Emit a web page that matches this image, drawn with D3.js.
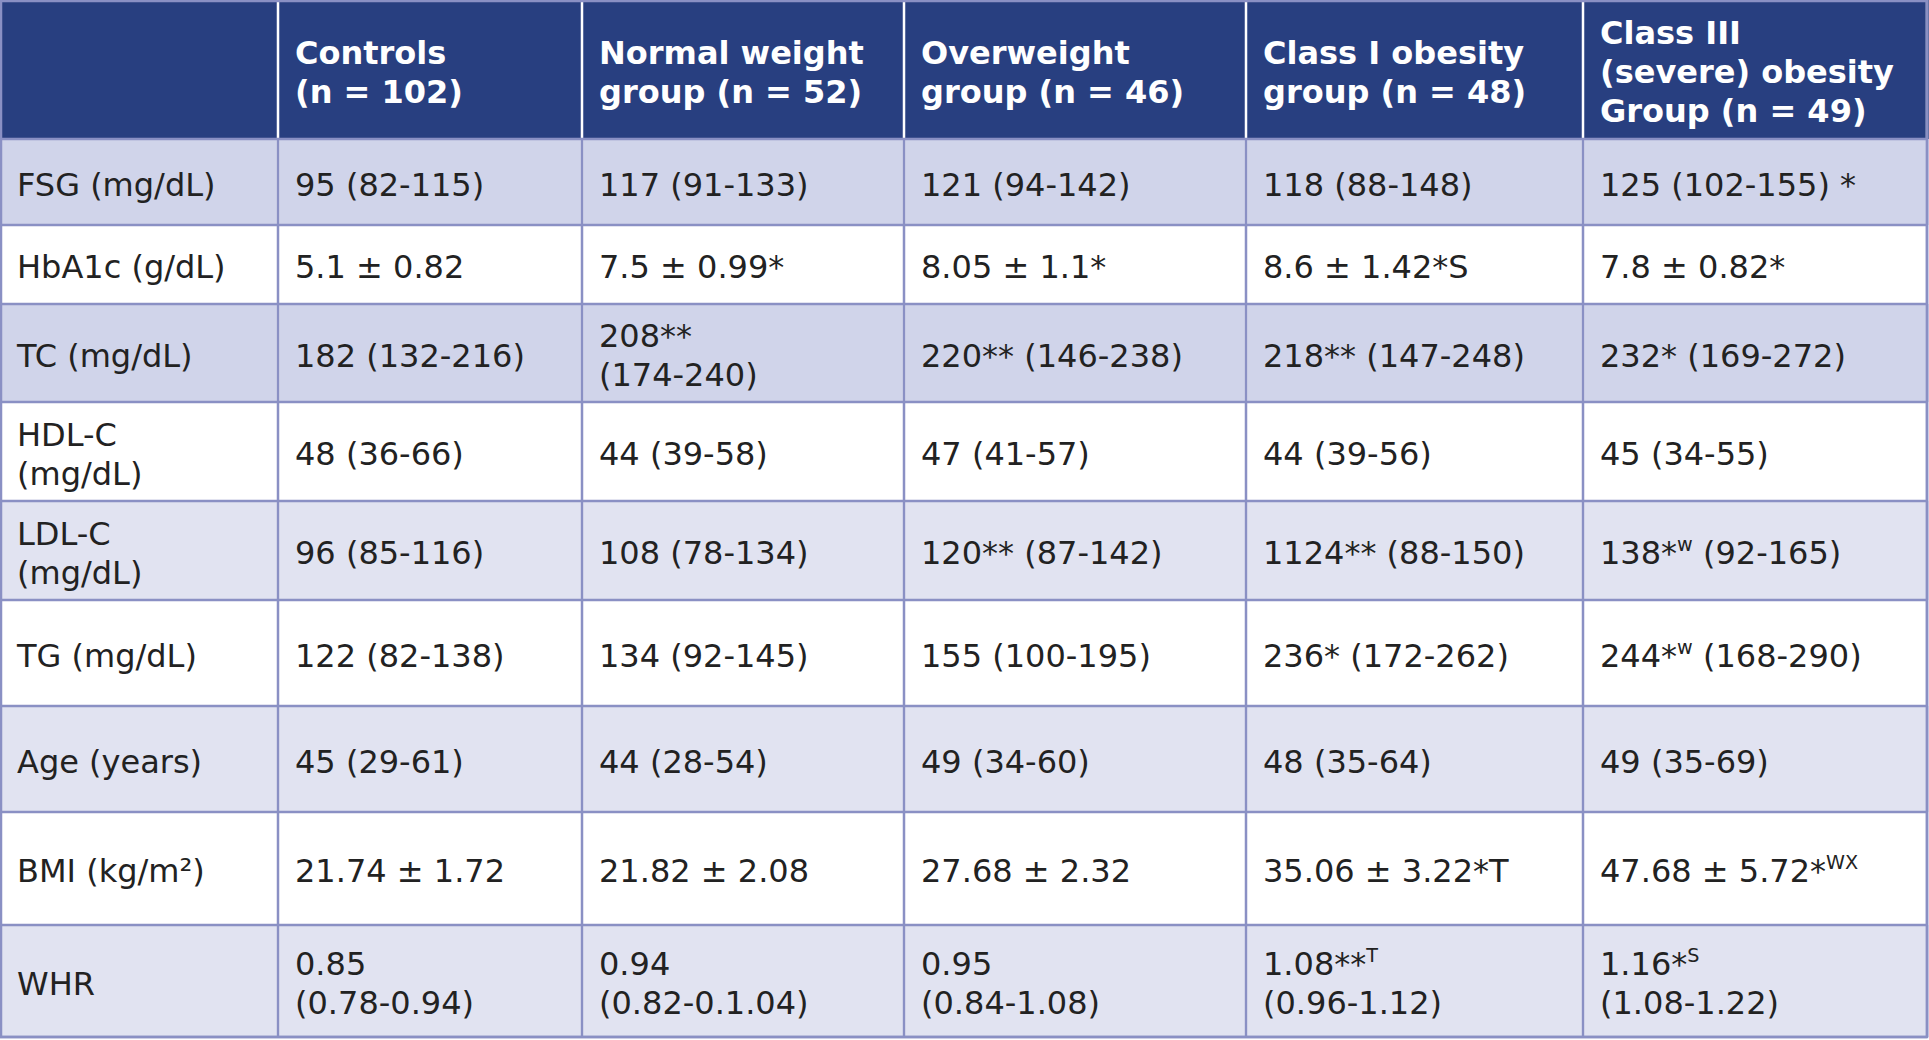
<!DOCTYPE html>
<html><head><meta charset="utf-8">
<script src="https://cdn.jsdelivr.net/npm/d3@7"></script>
<style>body{margin:0;background:#fff}</style></head>
<body><svg id="c" width="1929" height="1040"></svg>
<script>
// Data ("\n" = line break, {x} = superscript)
const headers = ["", "Controls\n(n = 102)", "Normal weight\ngroup (n = 52)", "Overweight\ngroup (n = 46)", "Class I obesity\ngroup (n = 48)", "Class III\n(severe) obesity\nGroup (n = 49)"];
const rowLabels = ["FSG (mg/dL)", "HbA1c (g/dL)", "TC (mg/dL)", "HDL-C\n(mg/dL)", "LDL-C\n(mg/dL)", "TG (mg/dL)", "Age (years)", "BMI (kg/m²)", "WHR"];
const controls = ["95 (82-115)", "5.1 ± 0.82", "182 (132-216)", "48 (36-66)", "96 (85-116)", "122 (82-138)", "45 (29-61)", "21.74 ± 1.72", "0.85\n(0.78-0.94)"];
const normalWeight = ["117 (91-133)", "7.5 ± 0.99*", "208**\n(174-240)", "44 (39-58)", "108 (78-134)", "134 (92-145)", "44 (28-54)", "21.82 ± 2.08", "0.94\n(0.82-0.1.04)"];
const overweight = ["121 (94-142)", "8.05 ± 1.1*", "220** (146-238)", "47 (41-57)", "120** (87-142)", "155 (100-195)", "49 (34-60)", "27.68 ± 2.32", "0.95\n(0.84-1.08)"];
const classI = ["118 (88-148)", "8.6 ± 1.42*S", "218** (147-248)", "44 (39-56)", "1124** (88-150)", "236* (172-262)", "48 (35-64)", "35.06 ± 3.22*T", "1.08**{T}\n(0.96-1.12)"];
const classIII = ["125 (102-155) *", "7.8 ± 0.82*", "232* (169-272)", "45 (34-55)", "138*{w} (92-165)", "244*{w} (168-290)", "49 (35-69)", "47.68 ± 5.72*{WX}", "1.16*{S}\n(1.08-1.22)"];
const columns = [rowLabels, controls, normalWeight, overweight, classI, classIII];

// Layout
const colEdges = [0, 278, 582, 904, 1246, 1583, 1927];
const rowEdges = [0, 139, 225, 304, 402, 501, 600, 706, 812, 925, 1037];
const rowFill = ["#d0d4ea", "#ffffff", "#d0d4ea", "#ffffff", "#e1e3f1", "#ffffff", "#e1e3f1", "#ffffff", "#e1e3f1"];
const svg = d3.select("#c");
const fs = 32, lh = 39, padX = 17;

function addText(g, str, x, yc, bold, color) {
  const lines = str.split("\n");
  const t = g.append("text").attr("x", x).attr("font-family", "DejaVu Sans, Verdana, sans-serif")
    .attr("font-size", fs).attr("font-weight", bold ? "bold" : "normal").attr("fill", color);
  const y0 = yc - (lines.length - 1) * lh / 2;
  lines.forEach((ln, i) => {
    const parts = ln.split(/(\{[^}]*\})/).filter(p => p.length);
    parts.forEach((p, j) => {
      const sp = t.append("tspan");
      if (j === 0) sp.attr("x", x).attr("y", y0 + i * lh).attr("dy", "0.36em");
      if (p[0] === "{") {
        sp.text(p.slice(1, -1)).attr("font-size", fs * 0.6).attr("baseline-shift", "70%");
      } else sp.text(p);
    });
  });
}

// header
svg.append("rect").attr("x", 0).attr("y", 0).attr("width", 1929).attr("height", rowEdges[1]).attr("fill", "#283f80");
headers.forEach((h, c) => {
  addText(svg, h, colEdges[c] + padX, rowEdges[1] / 2 + 2, true, "#ffffff");
});
// body
rowLabels.forEach((_, r) => {
  svg.append("rect").attr("x", 0).attr("y", rowEdges[r + 1]).attr("width", 1929)
    .attr("height", rowEdges[r + 2] - rowEdges[r + 1]).attr("fill", rowFill[r]);
  columns.forEach((col, c) => {
    addText(svg, col[r], colEdges[c] + padX, (rowEdges[r + 1] + rowEdges[r + 2]) / 2 + 2, false, "#222222");
  });
});
// grid lines
colEdges.forEach((x, i) => {
  svg.append("line").attr("x1", x).attr("x2", x).attr("y1", i === 0 || i === 6 ? 0 : 2).attr("y2", rowEdges[rowEdges.length - 1])
    .attr("stroke", "#fff").attr("stroke-width", 2.5);
  svg.append("line").attr("x1", x).attr("x2", x).attr("y1", rowEdges[1]).attr("y2", rowEdges[rowEdges.length - 1])
    .attr("stroke", "#8a90c4").attr("stroke-width", 2.5);
});
rowEdges.forEach((y, i) => {
  if (i === 0) return;
  svg.append("line").attr("x1", 0).attr("x2", 1927).attr("y1", y).attr("y2", y)
    .attr("stroke", "#8a90c4").attr("stroke-width", 2.5);
});
svg.append("rect").attr("x", 1).attr("y", 1).attr("width", 1926).attr("height", rowEdges[rowEdges.length - 1] - 1)
  .attr("fill", "none").attr("stroke", "#8a90c4").attr("stroke-width", 2.5);
</script></body></html>
